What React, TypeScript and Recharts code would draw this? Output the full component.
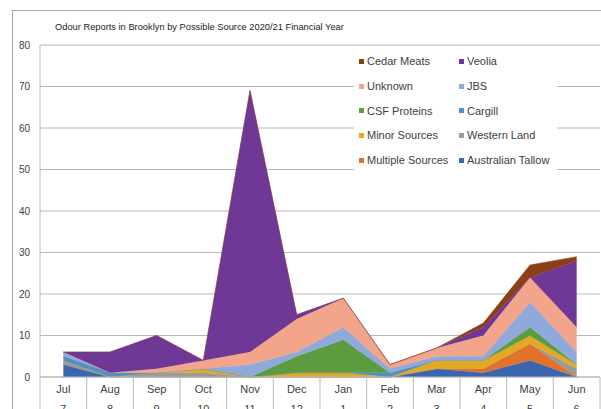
import React from "react";
import { AreaChart, Area, XAxis, YAxis, CartesianGrid } from "recharts";

// month labels and their number row underneath
const months = ["Jul", "Aug", "Sep", "Oct", "Nov", "Dec", "Jan", "Feb", "Mar", "Apr", "May", "Jun"];
const monthNums = [7, 8, 9, 10, 11, 12, 1, 2, 3, 4, 5, 6];

// report counts per source (stack bottom -> top)
const australianTallow = [3, 0, 0, 0, 0, 0, 0, 0, 2, 1, 4, 0];
const multipleSources = [0, 0, 0, 0, 0, 0, 0, 0, 0, 1, 4, 0];
const westernLand = [1, 0, 1, 1, 0, 0, 0, 0, 0, 0, 0, 2];
const minorSources = [0, 0, 0, 1, 0, 1, 1, 0, 2, 2, 2, 1];
const cargill = [1, 1, 0, 0, 0, 0, 0, 1, 0, 0, 0, 0];
const csfProteins = [0, 0, 0, 0, 0, 4, 8, 0, 0, 0, 2, 0];
const jbs = [1, 0, 0, 0, 3, 1, 3, 1, 1, 1, 6, 3];
const unknown = [0, 0, 1, 2, 3, 8, 7, 1, 2, 5, 6, 6];
const veolia = [0, 5, 8, 0, 63, 1, 0, 0, 0, 2, 0, 16];
const cedarMeats = [0, 0, 0, 0, 0, 0, 0, 0, 0, 1, 3, 1];

const yTicks = [0, 10, 20, 30, 40, 50, 60, 70, 80];

const series = [
  { key: "australianTallow", name: "Australian Tallow", color: "#3A66B0", values: australianTallow },
  { key: "multipleSources", name: "Multiple Sources", color: "#E0722C", values: multipleSources },
  { key: "westernLand", name: "Western Land", color: "#9A9A9A", values: westernLand },
  { key: "minorSources", name: "Minor Sources", color: "#E5A823", values: minorSources },
  { key: "cargill", name: "Cargill", color: "#4F8FCB", values: cargill },
  { key: "csfProteins", name: "CSF Proteins", color: "#5D9B40", values: csfProteins },
  { key: "jbs", name: "JBS", color: "#8FA9DB", values: jbs },
  { key: "unknown", name: "Unknown", color: "#F2A58A", values: unknown },
  { key: "veolia", name: "Veolia", color: "#6F3796", values: veolia },
  { key: "cedarMeats", name: "Cedar Meats", color: "#8A3F17", values: cedarMeats },
];

const data = months.map((m, i) => {
  const row: Record<string, string | number> = { month: m };
  series.forEach((s) => {
    row[s.key] = s.values[i];
  });
  return row;
});

const FONT = '"Liberation Sans", Arial, sans-serif';
const LINE = "#b8b8b8";
const HALF = 560 / 12 / 2;

const MonthTick = (props: any) => {
  const { x, payload, index } = props;
  return (
    <g>
      <line x1={x - HALF} x2={x - HALF} y1={377} y2={409} stroke={LINE} />
      {index === months.length - 1 && (
        <line x1={x + HALF} x2={x + HALF} y1={377} y2={409} stroke={LINE} />
      )}
      <text x={x} y={393} textAnchor="middle" fontSize={11} fill="#404040" fontFamily={FONT}>
        {payload.value}
      </text>
      {/* second row is cut by the bottom edge, as in the original */}
      <text x={x} y={413} textAnchor="middle" fontSize={11} fill="#404040" fontFamily={FONT}>
        {monthNums[index]}
      </text>
    </g>
  );
};

const ValueTick = (props: any) => {
  const { y, payload } = props;
  return (
    <text x={30} y={y} dy="0.35em" textAnchor="end" fontSize={10} fill="#404040" fontFamily={FONT}>
      {payload.value}
    </text>
  );
};

// legend reads top of stack first, two columns
const legendItems = [...series].reverse();

export default function App() {
  return (
    <div
      style={{
        position: "absolute",
        left: 0,
        top: 0,
        width: 601,
        height: 409,
        overflow: "hidden",
        background: "#fff",
        fontFamily: FONT,
      }}
    >
      <div
        style={{
          position: "absolute",
          left: 12,
          top: 10,
          width: 700,
          height: 500,
          border: "1px solid #a6a6a6",
        }}
      />
      <AreaChart
        width={601}
        height={409}
        data={data}
        margin={{ top: 45, right: 1, bottom: 0, left: 0 }}
      >
        <CartesianGrid vertical={false} stroke={LINE} />
        <XAxis
          dataKey="month"
          interval={0}
          height={32}
          padding={{ left: HALF, right: HALF }}
          axisLine={{ stroke: LINE }}
          tickLine={false}
          tick={<MonthTick />}
        />
        <YAxis
          width={40}
          domain={[0, 80]}
          ticks={yTicks}
          interval={0}
          axisLine={{ stroke: LINE }}
          tickLine={false}
          tick={<ValueTick />}
        />
        {series.map((s) => (
          <Area
            key={s.key}
            type="linear"
            dataKey={s.key}
            name={s.name}
            stackId="src"
            stroke={s.color}
            strokeWidth={0.5}
            fill={s.color}
            fillOpacity={1}
            isAnimationActive={false}
            dot={false}
            activeDot={false}
          />
        ))}
      </AreaChart>
      <div
        style={{
          position: "absolute",
          left: 55,
          top: 23,
          fontSize: 9.3,
          lineHeight: "9.3px",
          color: "#222",
          whiteSpace: "nowrap",
        }}
      >
        Odour Reports in Brooklyn by Possible Source 2020/21 Financial Year
      </div>
      <div
        style={{
          position: "absolute",
          left: 354,
          top: 49,
          width: 203,
          height: 124,
          background: "#fff",
          display: "flex",
          flexWrap: "wrap",
          alignContent: "flex-start",
        }}
      >
        {legendItems.map((s) => (
          <div
            key={s.key}
            style={{
              width: 100,
              height: 24.7,
              display: "flex",
              alignItems: "center",
              paddingLeft: 5,
              boxSizing: "border-box",
              fontSize: 11,
              color: "#404040",
              whiteSpace: "nowrap",
            }}
          >
            <span
              style={{
                display: "inline-block",
                width: 5,
                height: 5,
                background: s.color,
                marginRight: 3,
              }}
            />
            {s.name}
          </div>
        ))}
      </div>
    </div>
  );
}
